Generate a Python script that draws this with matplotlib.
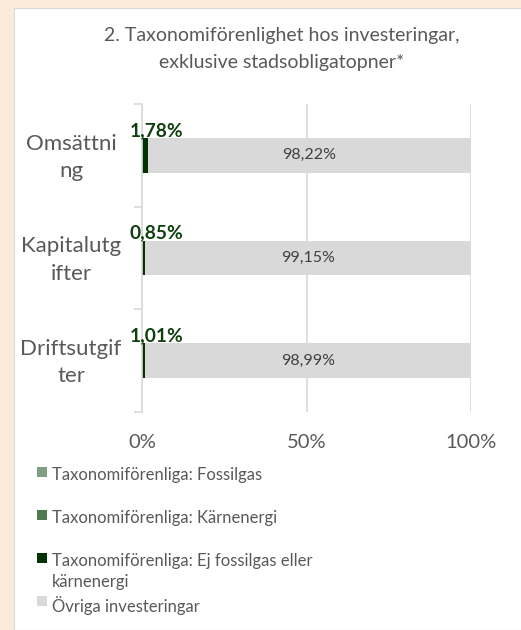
import matplotlib
matplotlib.use("Agg")
import matplotlib.pyplot as plt
from matplotlib.patches import Rectangle
from matplotlib.transforms import blended_transform_factory

plt.rcParams['font.family'] = ['Lato', 'DejaVu Sans']

title = "2. Taxonomiförenlighet hos investeringar,\nexklusive stadsobligatopner*"
categories = ["Omsättni\nng", "Kapitalutg\nifter", "Driftsutgif\nter"]
series_names = ["Taxonomiförenliga: Fossilgas",
                "Taxonomiförenliga: Kärnenergi",
                "Taxonomiförenliga: Ej fossilgas eller\nkärnenergi",
                "Övriga investeringar"]
fossilgas = [0.0, 0.0, 0.0]
karnenergi = [0.0, 0.0, 0.0]
ej_fossil = [1.78, 0.85, 1.01]
ovriga = [98.22, 99.15, 98.99]
xticks = [0, 50, 100]
xtick_labels = ["0%", "50%", "100%"]

colors = ["#7F9F80", "#4E7B4E", "#023302", "#D9D9D9"]
W, H = 521, 630
fig = plt.figure(figsize=(W / 100, H / 100), dpi=100)
fig.patch.set_facecolor("#FBEADA")
fig.add_artist(Rectangle((14 / W, 0), 1, 1 - 8 / H, transform=fig.transFigure,
                         facecolor="white", edgecolor="#D9D9D9", lw=0.8, zorder=0))

ax = fig.add_axes([142 / W, 1 - 412 / H, (471 - 142) / W, (412 - 104) / H])
ax.set_facecolor("none")

y = list(range(len(categories)))
h = 0.34
values = [fossilgas, karnenergi, ej_fossil, ovriga]
left = [0.0] * len(categories)
for vals, col in zip(values, colors):
    ax.barh(y, vals, left=left, height=h, color=col, zorder=3)
    left = [l + v for l, v in zip(left, vals)]

# data labels
for i in y:
    ax.annotate(f"{ej_fossil[i]:.2f}%".replace(".", ","), xy=(0, i - h / 2),
                xytext=(-12, -1), textcoords="offset pixels", ha="left", va="bottom",
                fontsize=13.8, fontweight="bold", color="#0E3F0E", zorder=7)
    ax.text(ej_fossil[i] + ovriga[i] / 2, i, f"{ovriga[i]:.2f}%".replace(".", ","),
            ha="center", va="center", fontsize=11.5, color="#404040", zorder=7)

ax.set_xlim(0, 100)
ax.set_ylim(len(categories) - 0.5, -0.5)
ax.set_xticks(xticks)
ax.set_xticklabels(xtick_labels, fontsize=14.5, color="#595959")
ax.tick_params(axis="x", length=0, pad=16)
ax.grid(axis="x", color="#D9D9D9", lw=1.2, zorder=0)

ax.set_yticks([i - 0.5 for i in range(len(categories) + 1)])
ax.set_yticklabels([])
ax.tick_params(axis="y", length=6, color="#D9D9D9", width=1.2)
for s in ["top", "right", "bottom"]:
    ax.spines[s].set_visible(False)
ax.spines["left"].set_color("#D9D9D9")
ax.spines["left"].set_linewidth(1.2)
ax.spines["left"].set_zorder(5)

tr = blended_transform_factory(fig.transFigure, ax.transData)
for i, c in enumerate(categories):
    ax.text(71 / W, i + 0.02, c, transform=tr, ha="center", va="center",
            multialignment="center", fontsize=16, color="#595959", linespacing=1.45)

fig.text(282 / W, 1 - 49 / H, title, ha="center", va="center", fontsize=14,
         color="#595959", linespacing=1.65)

# legend
leg_y = [472, 515, 558, 601]
for name, col, yy in zip(series_names, colors, leg_y):
    fig.add_artist(Rectangle((37 / W, 1 - (yy + 5) / H), 10 / W, 10 / H,
                             transform=fig.transFigure, facecolor=col, edgecolor="none"))
    fig.text(52 / W, 1 - (yy - 5) / H, name, ha="left", va="top", fontsize=12,
             color="#595959", linespacing=1.4)

fig.savefig("out.png", dpi=100, facecolor=fig.get_facecolor())
